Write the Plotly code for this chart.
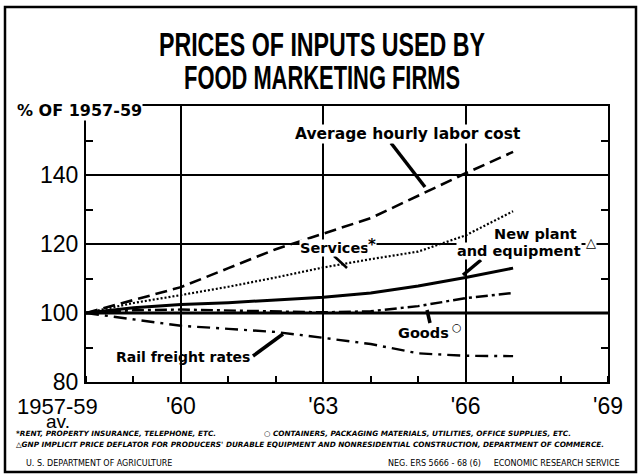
import plotly.graph_objects as go

# ---- data (index, 1957-59 = 100) ----
years = [1958, 1959, 1960, 1961, 1962, 1963, 1964, 1965, 1966, 1967]
labor = [100, 103.8, 107.5, 113.0, 118.5, 123.0, 127.5, 134.0, 140.5, 146.7]
services = [100, 102.9, 105.2, 107.6, 110.3, 113.2, 115.6, 117.8, 122.5, 129.5]
plant = [100, 101.5, 102.5, 103.0, 103.8, 104.6, 105.8, 107.8, 110.3, 113.0]
goods = [100, 100.8, 101.0, 100.8, 100.5, 100.2, 100.5, 102.0, 104.3, 105.8]
rail = [100, 98.2, 96.3, 95.4, 94.5, 92.8, 91.0, 88.3, 87.6, 87.5]

x_tickvals = [1958, 1960, 1963, 1966, 1969]
x_ticktext = ["", "'60", "'63", "'66", "'69"]
y_tickvals = [80, 100, 120, 140]
y_ticktext = ["80", "100", "120", "140"]
x_minor = list(range(1958, 1970))
y_minor = [90, 110, 130, 150]

# ---- geometry helpers (plot area in pixels) ----
L, R, T, B = 86, 608, 106, 382
X0, X1, Y0, Y1 = 1958, 1969, 80, 160


def dx(px):
    return X0 + (px - L) * (X1 - X0) / (R - L)


def dy(py):
    return Y0 + (B - py) * (Y1 - Y0) / (B - T)


def px_(px):
    return (px - L) / (R - L)


def py_(py):
    return (B - py) / (B - T)


fig = go.Figure()
blk = "black"
fig.add_trace(go.Scatter(x=years, y=labor, mode="lines", name="Average hourly labor cost",
                         line=dict(color=blk, width=2.6, dash="12px,6px")))
fig.add_trace(go.Scatter(x=years, y=services, mode="lines", name="Services",
                         line=dict(color=blk, width=2.2, dash="2px,2px")))
fig.add_trace(go.Scatter(x=years, y=plant, mode="lines", name="New plant and equipment",
                         line=dict(color=blk, width=3, dash="solid")))
fig.add_trace(go.Scatter(x=years, y=goods, mode="lines", name="Goods",
                         line=dict(color=blk, width=2.4, dash="12px,4px,3px,4px")))
fig.add_trace(go.Scatter(x=years, y=rail, mode="lines", name="Rail freight rates",
                         line=dict(color=blk, width=2.4, dash="13px,6px,3px,6px")))

shapes = []
# heavy 100 line
shapes.append(dict(type="line", xref="x", yref="y", x0=X0, x1=X1, y0=100, y1=100,
                   line=dict(color=blk, width=3.2), layer="below"))
# outer frame of whole chart
shapes.append(dict(type="rect", xref="paper", yref="paper",
                   x0=px_(5), x1=px_(636), y0=py_(472), y1=py_(7),
                   line=dict(color=blk, width=2.5)))


def pointer(x0, y0, x1, y1, w=3):
    shapes.append(dict(type="line", xref="x", yref="y", x0=dx(x0), y0=dy(y0),
                       x1=dx(x1), y1=dy(y1), line=dict(color=blk, width=w)))


pointer(391, 143, 425, 187, 3.5)
pointer(334, 256, 347, 268, 2.5)
pointer(481, 260, 463, 275, 3.5)
pointer(427, 310, 430, 323, 3.5)
pointer(253, 356, 283, 334, 3.5)

ann = []


def label(text, px, py, size=14.5, xanchor="center", bg=None, family="DejaVu Sans"):
    d = dict(text=text, xref="x", yref="y", x=dx(px), y=dy(py), showarrow=False,
             font=dict(family=family, size=size, color=blk), xanchor=xanchor, yanchor="middle")
    if bg:
        d["bgcolor"] = bg
        d["borderpad"] = 0
    ann.append(d)


label("<b>Average hourly labor cost</b>", 408, 134, size=15.5, bg="white")
label("<b>Services</b>", 334, 248, bg="white")
label("<b>*</b>", 372, 245, size=15, bg="white")
label("<b>New plant</b>", 578, 234, xanchor="right", bg="white")
label("<b>and equipment</b>", 582, 251, xanchor="right", bg="white")
label("\u25b3", 591, 242, size=13, bg="white")
label("<b>Goods</b>", 423, 333, bg="white")
label("\u25cb", 457, 327, size=11)
label("<b>Rail freight rates</b>", 183, 357, size=14)


def ptext(text, px, py, size, family="DejaVu Sans", xanchor="center", bg=None):
    d = dict(text=text, xref="paper", yref="paper", x=px_(px), y=py_(py),
             showarrow=False, xanchor=xanchor, yanchor="middle",
             font=dict(family=family, size=size, color=blk))
    if bg:
        d["bgcolor"] = bg
        d["borderpad"] = 0
    ann.append(d)


title_font = "Liberation Sans"
ptext("<b>PRICES OF INPUTS USED BY</b>", 322, 45, 33, family=title_font)
ptext("<b>FOOD MARKETING FIRMS</b>", 322, 77, 33, family=title_font)
ptext("<b>% OF 1957-59</b>", 16, 111, 16, xanchor="left", bg="white")

ptext("1957-59", 57, 406, 22, family="Liberation Sans")
ptext("av.", 58, 421, 19, family="Liberation Sans")

fn = "DejaVu Sans"
ptext("<b><i>*RENT, PROPERTY INSURANCE, TELEPHONE, ETC.</i></b>", 14, 433, 7.3, family=fn, xanchor="left")
ptext("<b><i>\u25cb CONTAINERS, PACKAGING MATERIALS, UTILITIES, OFFICE SUPPLIES, ETC.</i></b>", 262, 433, 7.3,
      family=fn, xanchor="left")
ptext("<b><i>\u25b3GNP IMPLICIT PRICE DEFLATOR FOR PRODUCERS' DURABLE EQUIPMENT AND NONRESIDENTIAL CONSTRUCTION, DEPARTMENT OF COMMERCE.</i></b>",
      14, 444, 7.3, family=fn, xanchor="left")
ptext("U. S. DEPARTMENT OF AGRICULTURE", 24, 463, 8, family=fn, xanchor="left")
ptext("NEG. ERS 5666 - 68 (6)     ECONOMIC RESEARCH SERVICE", 622, 463, 8, family=fn, xanchor="right")

fig.update_layout(
    width=641, height=474,
    margin=dict(l=L, r=641 - R, t=T, b=474 - B, pad=0),
    paper_bgcolor="white", plot_bgcolor="white",
    showlegend=False,
    shapes=shapes, annotations=ann,
    font=dict(family="Liberation Sans", color=blk),
)
fig.update_xaxes(range=[X0, X1], tickvals=x_tickvals, ticktext=x_ticktext,
                 showgrid=True, gridcolor=blk, gridwidth=1.5,
                 showline=True, linecolor=blk, linewidth=2, mirror=True,
                 ticks="", ticklabelstandoff=2,
                 tickfont=dict(family="Liberation Sans", size=23, color=blk),
                 minor=dict(tickvals=x_minor, ticks="inside", ticklen=6, tickwidth=1.5,
                            tickcolor=blk, showgrid=False),
                 zeroline=False, fixedrange=True)
fig.update_yaxes(range=[Y0, Y1], tickvals=y_tickvals, ticktext=y_ticktext,
                 showgrid=True, gridcolor=blk, gridwidth=1.5,
                 showline=True, linecolor=blk, linewidth=2, mirror="ticks",
                 ticks="", ticklabelstandoff=1,
                 tickfont=dict(family="Liberation Sans", size=23, color=blk),
                 minor=dict(tickvals=y_minor, ticks="inside", ticklen=7, tickwidth=1.5,
                            tickcolor=blk, showgrid=False),
                 zeroline=False, fixedrange=True)

# remove the browser's default page margin and condense the title lines
post = """
document.body.style.margin = '0';
var gd = document.getElementById('{plot_id}');
var widths = {'PRICES OF INPUTS USED BY': 326, 'FOOD MARKETING FIRMS': 276};
gd.querySelectorAll('text.annotation-text').forEach(function(t) {
  var w = widths[t.textContent];
  if (w) { t.setAttribute('textLength', w); t.setAttribute('lengthAdjust', 'spacingAndGlyphs'); }
});
"""
fig.write_html("out.html", post_script=post, config={"displayModeBar": False})
